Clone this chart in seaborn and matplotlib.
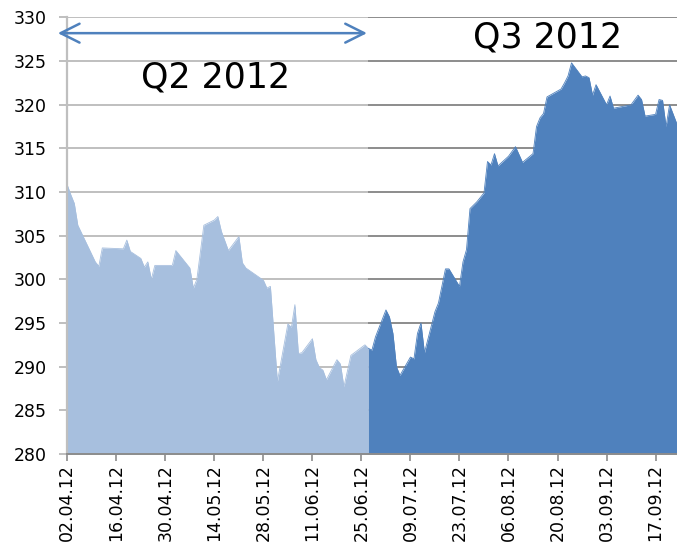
import matplotlib
matplotlib.use('Agg')
from matplotlib import pyplot as plt
import matplotlib.dates as mdates
import seaborn as sns
import pandas as pd

# Q2 2012 (light area)
q2_dates = ['2012-04-02', '2012-04-03', '2012-04-04', '2012-04-05', '2012-04-10', '2012-04-11',
            '2012-04-12', '2012-04-18', '2012-04-19', '2012-04-20', '2012-04-23', '2012-04-24',
            '2012-04-25', '2012-04-26', '2012-04-27', '2012-05-02', '2012-05-03', '2012-05-07',
            '2012-05-08', '2012-05-09', '2012-05-11', '2012-05-14', '2012-05-15', '2012-05-16',
            '2012-05-18', '2012-05-21', '2012-05-22', '2012-05-23', '2012-05-28', '2012-05-29',
            '2012-05-30', '2012-06-01', '2012-06-04', '2012-06-05', '2012-06-06', '2012-06-07',
            '2012-06-08', '2012-06-11', '2012-06-12', '2012-06-13', '2012-06-14', '2012-06-15',
            '2012-06-18', '2012-06-19', '2012-06-20', '2012-06-22', '2012-06-26', '2012-06-27']
q2_values = [310.8, 309.7, 308.7, 306.2, 302.0, 301.5,
             303.6, 303.5, 304.5, 303.2, 302.4, 301.4,
             302.0, 300.0, 301.6, 301.6, 303.3, 301.3,
             299.0, 300.0, 306.2, 306.8, 307.2, 305.5,
             303.3, 304.9, 301.9, 301.3, 299.9, 299.0,
             299.2, 288.3, 294.9, 294.5, 297.1, 291.5,
             291.6, 293.2, 290.8, 289.9, 289.6, 288.5,
             290.8, 290.3, 287.7, 291.3, 292.5, 292.1]

# Q3 2012 (dark area)
q3_dates = ['2012-06-27', '2012-06-28', '2012-06-29', '2012-07-02', '2012-07-03', '2012-07-04',
            '2012-07-05', '2012-07-06', '2012-07-09', '2012-07-10', '2012-07-11', '2012-07-12',
            '2012-07-13', '2012-07-16', '2012-07-17', '2012-07-19', '2012-07-20', '2012-07-23',
            '2012-07-24', '2012-07-25', '2012-07-26', '2012-07-28', '2012-07-30', '2012-07-31',
            '2012-08-01', '2012-08-02', '2012-08-03', '2012-08-06', '2012-08-08', '2012-08-10',
            '2012-08-13', '2012-08-14', '2012-08-15', '2012-08-16', '2012-08-17', '2012-08-21',
            '2012-08-22', '2012-08-23', '2012-08-24', '2012-08-27', '2012-08-28', '2012-08-29',
            '2012-08-30', '2012-08-31', '2012-09-03', '2012-09-04', '2012-09-05', '2012-09-10',
            '2012-09-12', '2012-09-13', '2012-09-14', '2012-09-17', '2012-09-18', '2012-09-19',
            '2012-09-20', '2012-09-21', '2012-09-23']
q3_values = [292.1, 291.9, 293.4, 296.5, 295.7, 293.8,
             290.0, 289.0, 291.1, 290.9, 293.8, 295.0,
             291.6, 296.3, 297.3, 301.2, 301.2, 299.2,
             302.0, 303.4, 308.1, 308.9, 309.9, 313.5,
             313.1, 314.4, 313.0, 314.1, 315.2, 313.4,
             314.4, 317.5, 318.5, 319.0, 320.9, 321.8,
             322.5, 323.3, 324.8, 323.2, 323.3, 323.1,
             321.1, 322.3, 320.0, 321.0, 319.6, 320.0,
             321.1, 320.6, 318.7, 318.9, 320.6, 320.5,
             317.5, 320.0, 317.9]

tick_labels = ['02.04.12', '16.04.12', '30.04.12', '14.05.12', '28.05.12', '11.06.12', '25.06.12',
               '09.07.12', '23.07.12', '06.08.12', '20.08.12', '03.09.12', '17.09.12']
y_ticks = [280, 285, 290, 295, 300, 305, 310, 315, 320, 325, 330]

light_blue = '#A7BFDE'
dark_blue = '#4F81BD'

sns.set_theme(style='white')
plt.rcParams['font.family'] = ['DejaVu Sans']

q2 = pd.DataFrame({'date': pd.to_datetime(q2_dates), 'value': q2_values})
q3 = pd.DataFrame({'date': pd.to_datetime(q3_dates), 'value': q3_values})
x_start = q2['date'].iloc[0]
x_end = q3['date'].iloc[-1] + pd.Timedelta(hours=3)
split = q3['date'].iloc[0]

fig = plt.figure(figsize=(6.77, 5.45), dpi=100)
ax = fig.add_axes([0.0994, 0.167, 0.9006, 0.801])

# gridlines: light over Q2, darker over Q3
ax.hlines(y_ticks[1:], x_start, split, color='#BFBFBF', lw=1.4, zorder=0)
ax.hlines(y_ticks[1:], split, x_end, color='#8C8C8C', lw=1.4, zorder=0)

sns.lineplot(data=q2, x='date', y='value', color=light_blue, lw=0.6, ax=ax, zorder=2)
ax.fill_between(q2['date'], 280, q2['value'], color=light_blue, lw=0, zorder=2)
sns.lineplot(data=q3, x='date', y='value', color=dark_blue, lw=0.6, ax=ax, zorder=3)
ax.fill_between(q3['date'], 280, q3['value'], color=dark_blue, lw=0, zorder=3)

ax.set_xlim(x_start, x_end)
ax.set_ylim(280, 330)
ax.set_yticks(y_ticks)
ax.set_xticks(pd.to_datetime(tick_labels, format='%d.%m.%y'))
ax.set_xticklabels(tick_labels, rotation=90)
ax.set_xlabel('')
ax.set_ylabel('')

ax.tick_params(axis='x', bottom=True, direction='out', length=5, width=1.2, color='#8C8C8C',
               labelsize=12.5, pad=2, labelcolor='black')
ax.tick_params(axis='y', left=True, direction='out', length=6, width=1.4, color='#BFBFBF',
               labelsize=12.5, pad=9, labelcolor='black')

for side in ['top', 'right']:
    ax.spines[side].set_visible(False)
ax.spines['left'].set_color('#BFBFBF')
ax.spines['left'].set_linewidth(1.6)
ax.spines['bottom'].set_color('#8C8C8C')
ax.spines['bottom'].set_linewidth(1.4)
ax.spines['bottom'].set_zorder(4)

# quarter arrow and labels
arrow_left = mdates.date2num(x_start - pd.Timedelta(days=2.7))
arrow_right = mdates.date2num(split - pd.Timedelta(hours=10))
ax.annotate('', xy=(arrow_left, 328.2), xytext=(arrow_right, 328.2),
            arrowprops=dict(arrowstyle='<->', color=dark_blue, lw=1.8, mutation_scale=34,
                            shrinkA=0, shrinkB=0),
            annotation_clip=False, zorder=5)
ax.text(mdates.date2num(pd.Timestamp('2012-05-14 06:00')), 323.1, 'Q2 2012',
        fontsize=25, ha='center', va='center', color='black', zorder=5)
ax.text(mdates.date2num(pd.Timestamp('2012-08-17 06:00')), 327.7, 'Q3 2012',
        fontsize=25, ha='center', va='center', color='black', zorder=5)

fig.savefig('out.png', dpi=100)
